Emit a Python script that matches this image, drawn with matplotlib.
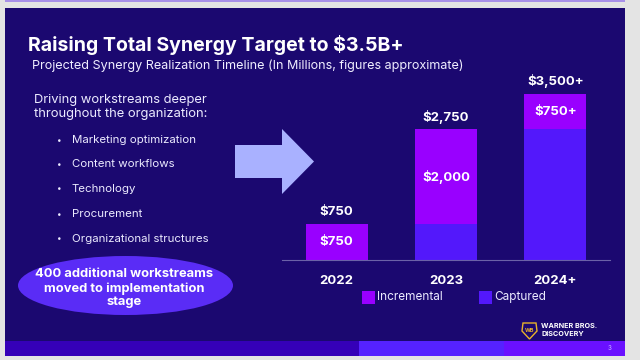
import matplotlib
matplotlib.use("Agg")
import matplotlib.pyplot as plt
from matplotlib.patches import Rectangle, Ellipse, Polygon

# ---- data ----
years = ["2022", "2023", "2024+"]
captured = [0, 750, 2750]
incremental = [750, 2000, 750]
total_labels = ["$750", "$2,750", "$3,500+"]
inc_labels = ["$750", "$2,000", "$750+"]
bullets = ["Marketing optimization", "Content workflows", "Technology",
           "Procurement", "Organizational structures"]
title = "Raising Total Synergy Target to $3.5B+"
subtitle = "Projected Synergy Realization Timeline (In Millions, figures approximate)"

plt.rcParams['font.family'] = ['Inter', 'DejaVu Sans']

W, H = 640, 360
fig = plt.figure(figsize=(6.4, 3.6), dpi=100)
fig.patch.set_facecolor("#e4e4e4")

bg = fig.add_axes([0, 0, 1, 1])
bg.set_xlim(0, W)
bg.set_ylim(H, 0)
bg.axis("off")

# frame + slide
bg.add_patch(Rectangle((5, 0), 620, 2, color="#a890e8", lw=0))
bg.add_patch(Rectangle((5, 8), 620, 333, color="#1b0870", lw=0))
# bottom bar
bg.add_patch(Rectangle((5, 341), 354, 14.5, color="#3500b8", lw=0))
bg.add_patch(Rectangle((359, 341), 145, 14.5, color="#5522ff", lw=0))
bg.add_patch(Rectangle((504, 341), 121, 14.5, color="#6a10ff", lw=0))
bg.text(610, 348, "3", color="#c8b8ff", fontsize=4.5, ha="center", va="center")

fig.canvas.draw()
r = fig.canvas.get_renderer()

def fit(t, width):
    bb = t.get_window_extent(renderer=r)
    t.set_fontsize(t.get_fontsize() * width / bb.width)

t = bg.text(28, 45, title, color="white", fontsize=14, fontweight="bold", va="center", ha="left")
fit(t, 376)
t = bg.text(32, 66, subtitle, color="#f0eeff", fontsize=9, va="center", ha="left")
fit(t, 434)

t = bg.text(34, 100, "Driving workstreams deeper", color="#ecebff", fontsize=9.5, va="center")
fit(t, 173)
fs_intro = t.get_fontsize()
bg.text(34, 114, "throughout the organization:", color="#ecebff", fontsize=fs_intro, va="center")

ys = [140, 164, 189, 214, 239]
for y, b in zip(ys, bullets):
    bg.text(59, y, "\u2022", color="#ecebff", fontsize=6, va="center", ha="center")
    t = bg.text(72, y, b, color="#ecebff", fontsize=8, va="center")
    if b == bullets[0]:
        fit(t, 125)
        fs_b = t.get_fontsize()
    else:
        t.set_fontsize(fs_b)

bg.add_patch(Ellipse((125.5, 285.5), 215, 59, color="#5a2cf6", lw=0))
ell_lines = ["400 additional workstreams", "moved to implementation", "stage"]
t = bg.text(124, 274, ell_lines[0], color="white", fontsize=9, fontweight="bold", va="center", ha="center")
fit(t, 178)
fs_e = t.get_fontsize()
bg.text(124, 289, ell_lines[1], color="white", fontsize=fs_e, fontweight="bold", va="center", ha="center")
bg.text(124, 302, ell_lines[2], color="white", fontsize=fs_e, fontweight="bold", va="center", ha="center")

# arrow
bg.add_patch(Polygon([(235, 145), (282, 145), (282, 129), (314, 161.5),
                      (282, 194), (282, 178), (235, 178)], closed=True,
                     color="#a9b1ff", lw=0))

# logo
shield = [(523, 323), (536, 323), (537, 331), (529.5, 339), (522, 331)]
bg.add_patch(Polygon(shield, closed=True, facecolor="#1b0870", edgecolor="#e8b22b", lw=1))
bg.text(529.5, 330, "WB", color="#e8b22b", fontsize=4, fontweight="bold", ha="center", va="center")
bg.text(541, 326, "WARNER BROS.", color="white", fontsize=5.2, fontweight="bold", va="center")
bg.text(541, 334.5, "DISCOVERY", color="white", fontsize=5.2, fontweight="bold", va="center")

# ---- chart ----
scale = 0.0475  # px per unit
ax = fig.add_axes([282 / W, 100 / H, 328 / W, 200 / H])
ax.set_xlim(-0.5, 2.5)
ax.set_ylim(0, 200 / scale)
ax.patch.set_alpha(0)
for s in ["top", "right", "left"]:
    ax.spines[s].set_visible(False)
ax.spines["bottom"].set_color("#6b62a8")
ax.spines["bottom"].set_linewidth(0.8)
ax.set_yticks([])
x = list(range(len(years)))
ax.set_xticks(x)
ax.set_xticklabels(years, color="white", fontsize=9.5, fontweight="bold")
ax.tick_params(axis="x", length=0, pad=11)

inc_color = "#9900ff"
cap_color = "#5318fb"
bw = 0.567
ax.bar(x, captured, width=bw, color=cap_color, label="Captured")
ax.bar(x, incremental, width=bw, bottom=captured, color=inc_color, label="Incremental")

for i in x:
    top = captured[i] + incremental[i]
    ax.annotate(total_labels[i], (i, top), xytext=(0, 9), textcoords="offset points",
                ha="center", va="center", color="white", fontsize=9.5, fontweight="bold")
    ax.text(i, captured[i] + incremental[i] / 2, inc_labels[i], ha="center", va="center",
            color="white", fontsize=9.5, fontweight="bold")

# legend
bg.add_patch(Rectangle((362, 291), 13, 13, color=inc_color, lw=0))
bg.text(377, 297, "Incremental", color="#ecebff", fontsize=8.5, va="center")
bg.add_patch(Rectangle((479, 291), 13, 13, color=cap_color, lw=0))
bg.text(494, 297, "Captured", color="#ecebff", fontsize=8.5, va="center")

fig.savefig("out.png", dpi=100, facecolor=fig.get_facecolor())
